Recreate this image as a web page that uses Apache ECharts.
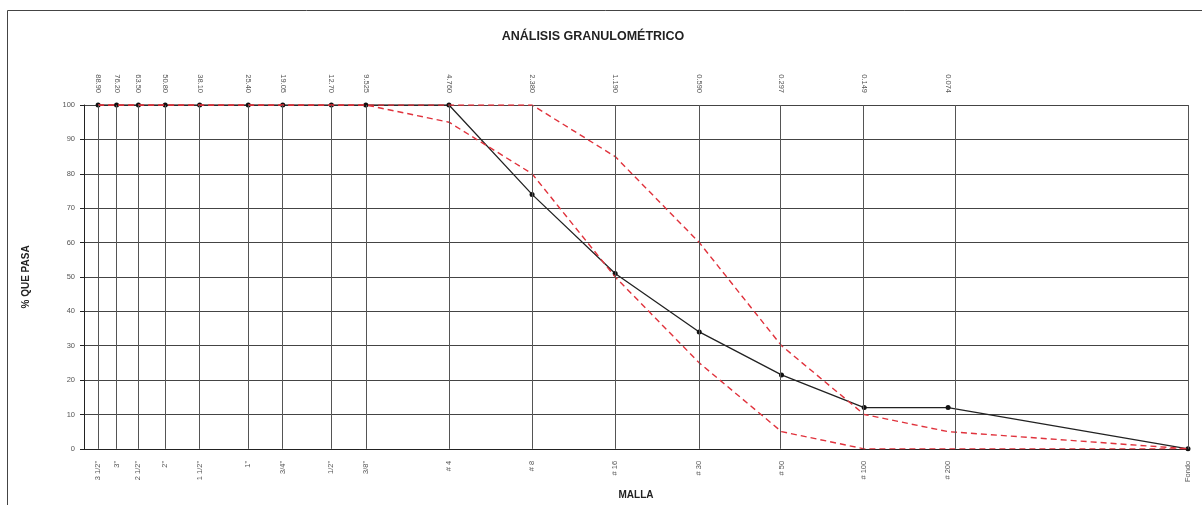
<!DOCTYPE html>
<html><head><meta charset="utf-8">
<script src="https://cdn.jsdelivr.net/npm/echarts@6/dist/echarts.min.js"></script>
<style>html,body{margin:0;padding:0;background:#fff}#c{width:1202px;height:505px}</style>
</head><body><div id="c"></div>
<script>
const sieveSizes = [88.9, 76.2, 63.5, 50.8, 38.1, 25.4, 19.05, 12.7, 9.525, 4.76, 2.38, 1.19, 0.59, 0.297, 0.149, 0.074, 0.01];
const sieveNames = ['3 1/2"', '3"', '2 1/2"', '2"', '1 1/2"', '1"', '3/4"', '1/2"', '3/8"', '# 4', '# 8', '# 16', '# 30', '# 50', '# 100', '# 200', 'Fondo'];
const openingLabels = ['88.90', '76.20', '63.50', '50.80', '38.10', '25.40', '19.05', '12.70', '9.525', '4.760', '2.380', '1.190', '0.590', '0.297', '0.149', '0.074'];
const passing = [100, 100, 100, 100, 100, 100, 100, 100, 100, 100, 74, 51, 34, 21.5, 12, 12, 0];
const upperLimit = [100, 100, 100, 100, 100, 100, 100, 100, 100, 100, 100, 85, 60, 30, 10, 5, 0];
const lowerLimit = [100, 100, 100, 100, 100, 100, 100, 100, 100, 95, 80, 50, 25, 5, 0, 0, 0];
const titleText = 'ANÁLISIS GRANULOMÉTRICO';
const yName = '% QUE PASA';
const xName = 'MALLA';

const FONT = 'Liberation Sans, Arial, sans-serif';
function idxOf(v) {
  let best = -1, bd = 1e9;
  sieveSizes.forEach((s, i) => { const d = Math.abs(Math.log10(s) - Math.log10(v)); if (d < bd) { bd = d; best = i; } });
  return bd < 1e-4 ? best : -1;
}
const pairs = arr => sieveSizes.map((s, i) => [s, arr[i]]);

const chart = echarts.init(document.getElementById('c'), null, { renderer: 'canvas' });
chart.setOption({
  animation: false,
  backgroundColor: '#fff',
  textStyle: { fontFamily: FONT },
  grid: { left: 84, right: 14, top: 105, bottom: 56, containLabel: false },
  graphic: [
    { type: 'rect', silent: true, shape: { x: 7.5, y: 10.5, width: 1300, height: 600 }, style: { fill: 'none', stroke: '#444', lineWidth: 1 } },
    { type: 'text', silent: true, x: 593, y: 37, style: { text: titleText, font: 'bold 12.5px ' + FONT, fill: '#222', align: 'center', verticalAlign: 'middle' } }
  ],
  xAxis: [
    {
      type: 'log', logBase: 10, min: 0.01, max: 100, inverse: true, position: 'bottom',
      name: xName, nameLocation: 'middle', nameGap: 39,
      nameTextStyle: { fontWeight: 'bold', fontSize: 10, color: '#222', fontFamily: FONT },
      axisLine: { show: true, lineStyle: { color: '#222', width: 1 } },
      axisTick: { show: false },
      splitLine: { show: false }, minorSplitLine: { show: false },
      axisLabel: {
        customValues: sieveSizes, rotate: 90, margin: 12, fontSize: 7.5, color: '#555', fontFamily: FONT,
        formatter: v => { const i = idxOf(v); return i >= 0 ? sieveNames[i] : ''; }
      }
    },
    {
      type: 'log', logBase: 10, min: 0.01, max: 100, inverse: true, position: 'top',
      axisLine: { show: false }, axisTick: { show: false },
      splitLine: { show: false }, minorSplitLine: { show: false },
      axisLabel: {
        customValues: sieveSizes.slice(0, openingLabels.length), rotate: 90, margin: 12, fontSize: 7.5, color: '#555', fontFamily: FONT,
        formatter: v => { const i = idxOf(v); return i >= 0 && i < openingLabels.length ? openingLabels[i] : ''; }
      }
    }
  ],
  yAxis: {
    type: 'value', min: 0, max: 100, interval: 10,
    name: yName, nameLocation: 'middle', nameGap: 53, nameRotate: 90,
    nameTextStyle: { fontWeight: 'bold', fontSize: 10, color: '#222', fontFamily: FONT },
    axisLine: { show: true, lineStyle: { color: '#222', width: 1 } },
    axisTick: { show: true, length: 4, lineStyle: { color: '#222' } },
    axisLabel: { fontSize: 7.5, color: '#555', margin: 9, fontFamily: FONT },
    splitLine: { show: true, lineStyle: { color: '#444', width: 1 } }
  },
  series: [
    {
      type: 'line', xAxisIndex: 0, data: [], z: 1, silent: true,
      markLine: {
        silent: true, symbol: ['none', 'none'], label: { show: false }, animation: false,
        lineStyle: { color: '#555', width: 1, type: 'solid' },
        data: sieveSizes.map(v => ({ xAxis: v }))
      }
    },
    {
      name: 'Muestra', type: 'line', xAxisIndex: 0, data: pairs(passing), z: 3,
      symbol: 'circle', symbolSize: 5, showSymbol: true,
      itemStyle: { color: '#111' }, lineStyle: { color: '#222', width: 1.3 }
    },
    {
      name: 'Límite superior', type: 'line', xAxisIndex: 0, data: pairs(upperLimit), z: 4,
      symbol: 'none', lineStyle: { color: '#e0323c', width: 1.4, type: [6, 4] }
    },
    {
      name: 'Límite inferior', type: 'line', xAxisIndex: 0, data: pairs(lowerLimit), z: 4,
      symbol: 'none', lineStyle: { color: '#e0323c', width: 1.4, type: [6, 4] }
    }
  ]
});
</script>
</body></html>
